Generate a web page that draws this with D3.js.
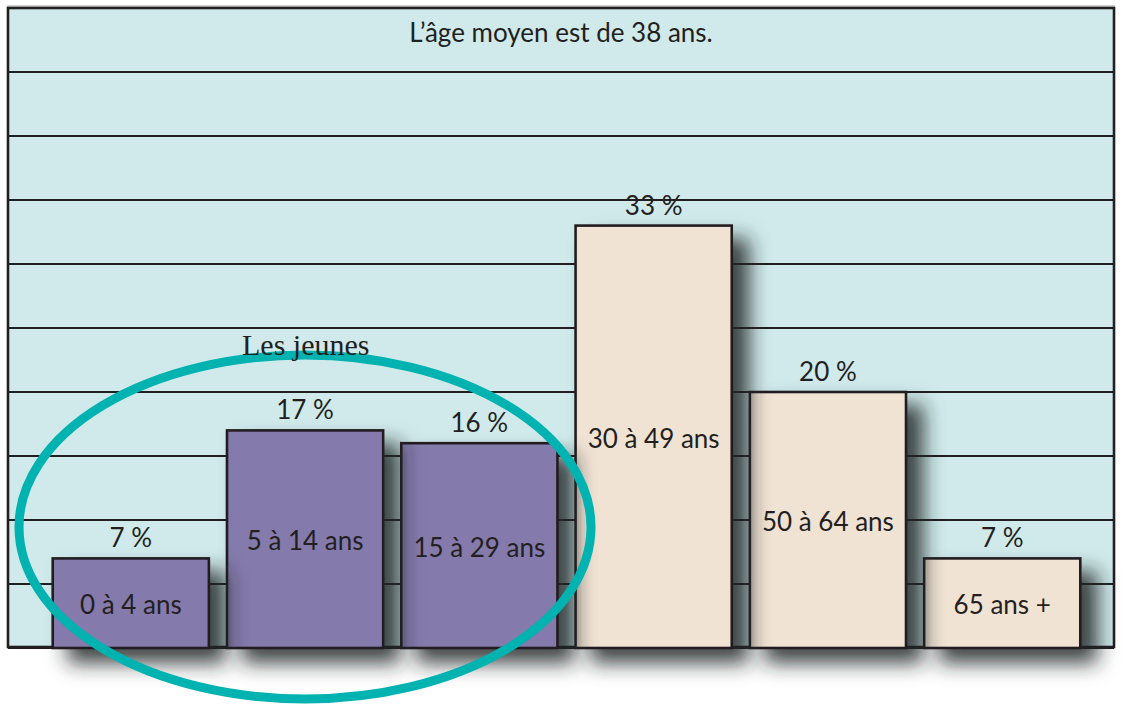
<!DOCTYPE html>
<html>
<head>
<meta charset="utf-8">
<script src="https://cdn.jsdelivr.net/npm/d3@7"></script>
<style>
  html, body { margin: 0; padding: 0; background: #ffffff; }
  svg { display: block; }
</style>
</head>
<body>
<svg id="chart" width="1123" height="704"></svg>
<script>
// ---- data ----
const categories = ["0 à 4 ans", "5 à 14 ans", "15 à 29 ans", "30 à 49 ans", "50 à 64 ans", "65 ans +"];
const values = [7, 17, 16, 33, 20, 7];
const groups = ["jeunes", "jeunes", "jeunes", "autres", "autres", "autres"];
const valueLabels = ["7 %", "17 %", "16 %", "33 %", "20 %", "7 %"];
const titleText = "L’âge moyen est de 38 ans.";
const annotationText = "Les jeunes";
const yMax = 50;

// ---- layout ----
const W = 1123, H = 704;
const plot = { left: 8, top: 8, right: 1114, bottom: 648 };
const ink = "#231f20";
const colors = { jeunes: "#847aac", autres: "#f0e3d4" };

const svg = d3.select("#chart");
const defs = svg.append("defs");
const f = defs.append("filter").attr("id", "shadow")
  .attr("filterUnits", "userSpaceOnUse")
  .attr("x", 0).attr("y", 0).attr("width", W).attr("height", H);
f.append("feDropShadow")
  .attr("dx", 16).attr("dy", 14).attr("stdDeviation", 10)
  .attr("flood-color", "#1c2828").attr("flood-opacity", 0.85);

const x = d3.scaleBand().domain(categories)
  .range([44, 1089]).paddingInner(0.104).paddingOuter(0.05);
const y = d3.scaleLinear().domain([0, yMax]).range([plot.bottom, plot.top]);

// background
svg.append("rect")
  .attr("x", plot.left).attr("y", plot.top)
  .attr("width", plot.right - plot.left).attr("height", plot.bottom - plot.top)
  .attr("fill", "#d0eaeb");

// gridlines
svg.append("g").selectAll("line")
  .data(y.ticks(10))
  .join("line")
  .attr("x1", plot.left).attr("x2", plot.right)
  .attr("y1", d => y(d)).attr("y2", d => y(d))
  .attr("stroke", ink).attr("stroke-width", 2.2);

// frame
svg.append("line")
  .attr("x1", plot.left - 1).attr("x2", plot.right + 1)
  .attr("y1", plot.top - 2).attr("y2", plot.top - 2)
  .attr("stroke", "#bfbfbf").attr("stroke-width", 1.5);
svg.append("rect")
  .attr("x", plot.left).attr("y", plot.top)
  .attr("width", plot.right - plot.left).attr("height", plot.bottom - plot.top - 1)
  .attr("fill", "none").attr("stroke", ink).attr("stroke-width", 2.6);

// bars (drawn right to left so each shadow falls over its right neighbour)
const data = categories.map((c, i) => ({ c, v: values[i], g: groups[i], lab: valueLabels[i] }));
svg.append("g").selectAll("rect")
  .data(data.slice().reverse())
  .join("rect")
  .attr("x", d => x(d.c))
  .attr("y", d => y(d.v))
  .attr("width", x.bandwidth())
  .attr("height", d => y(0) - y(d.v))
  .attr("fill", d => colors[d.g])
  .attr("stroke", ink).attr("stroke-width", 2.6)
  .attr("filter", "url(#shadow)");

// ellipse
svg.append("ellipse")
  .attr("cx", 305).attr("cy", 527)
  .attr("rx", 286).attr("ry", 172)
  .attr("fill", "none")
  .attr("stroke", "#00b2b0").attr("stroke-width", 9);

const font = "Lato, 'Open Sans', sans-serif";

// value labels
svg.append("g").selectAll("text")
  .data(data)
  .join("text")
  .attr("x", d => x(d.c) + x.bandwidth() / 2)
  .attr("y", d => y(d.v) - 11)
  .attr("text-anchor", "middle")
  .attr("font-family", font).attr("font-size", 26)
  .attr("fill", ink)
  .text(d => d.lab);

// category labels inside bars
svg.append("g").selectAll("text")
  .data(data)
  .join("text")
  .attr("x", d => x(d.c) + x.bandwidth() / 2)
  .attr("y", d => (y(d.v) + y(0)) / 2 + 11)
  .attr("text-anchor", "middle")
  .attr("font-family", font).attr("font-size", 26)
  .attr("fill", ink)
  .text(d => d.c);

// title
svg.append("text")
  .attr("x", (plot.left + plot.right) / 2).attr("y", 42)
  .attr("text-anchor", "middle")
  .attr("font-family", font).attr("font-size", 26)
  .attr("fill", ink)
  .text(titleText);

// annotation
svg.append("text")
  .attr("x", 242).attr("y", 355)
  .attr("font-family", "'Liberation Serif', 'DejaVu Serif', serif").attr("font-size", 30)
  .attr("fill", ink)
  .text(annotationText);
</script>
</body>
</html>
